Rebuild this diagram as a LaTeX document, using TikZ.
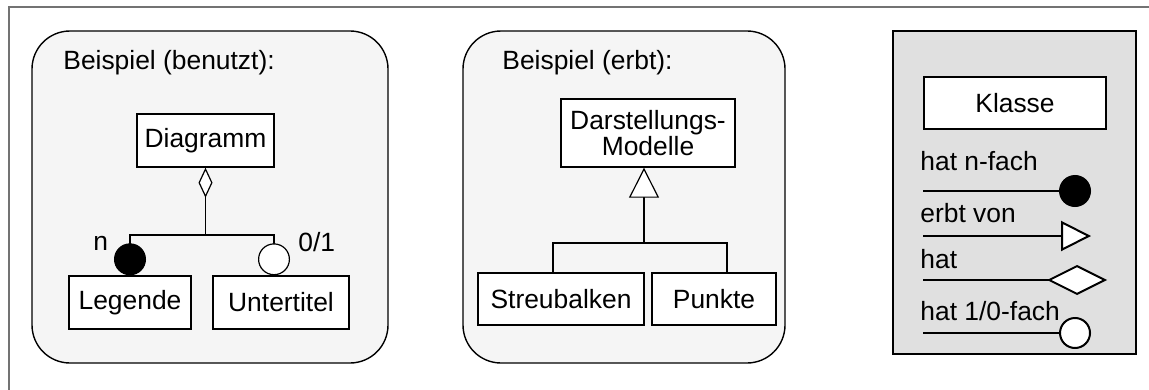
\documentclass[tikz,border=0pt]{standalone}
\usepackage{fontspec}
\setmainfont{Liberation Sans}
\usetikzlibrary{arrows.meta}

\tikzset{
  klasse/.style={draw,fill=white,line width=0.7pt,inner sep=0pt},
  gruppe/.style={draw,line width=0.7pt,rounded corners=19pt,fill=black!4},
  beschr/.style={anchor=base west,inner sep=0pt},
  verb/.style={line width=0.6pt},
  legline/.style={line width=1pt},
  voll/.tip={Circle[length=16pt]},
  leer/.tip={Circle[length=16pt,fill=white]},
  raute/.tip={Diamond[length=15pt,width=7pt,fill=white]},
  dreieck/.tip={Triangle[length=15pt,width=15pt,fill=white]},
  grossdreieck/.tip={Triangle[length=15pt,width=15pt,fill=white]},
  grossraute/.tip={Diamond[length=30pt,width=15pt,fill=white]},
}

\begin{document}
\begin{tikzpicture}[x=0.5pt,y=-0.5pt,font=\fontsize{13.2pt}{11.5pt}\selectfont]
  \useasboundingbox (0,0) rectangle (1149,390);
  \draw[black!55,line width=0.8pt] (9,390) -- (9,7) -- (1149,7);

  % Beispiel benutzt
  \draw[gruppe] (32,31) rectangle (388,363);
  \node[beschr] (tbenutzt) at (63,70) {Beispiel (benutzt):};
  \node[klasse,minimum width=68.5pt,minimum height=26.5pt] (diag) at (205.5,140.5) {Diagramm};
  \node[klasse,minimum width=61pt,minimum height=26.5pt] (leg) at (130,302.5) {Legende};
  \node[klasse,minimum width=68pt,minimum height=26.5pt] (unter) at (281,302.5) {Untertitel};
  \coordinate (bjoin) at (205.5,235);
  \draw[verb,{raute}-] (diag) -- (bjoin);
  \draw[verb,-{voll}] (bjoin) -| (leg);
  \draw[verb,-{leer}] (bjoin) -| ([xshift=-3.5pt]unter.north);
  \node[beschr] (nmult) at (93,250) {n};
  \node[beschr] (emult) at (298,251) {0/1};

  % Beispiel erbt
  \draw[gruppe] (463,31) rectangle (785,363);
  \node[beschr] (terbt) at (502,70) {Beispiel (erbt):};
  \node[klasse,align=center,minimum width=87pt,minimum height=34pt] (dmod) at (648,133) {Darstellungs-\\Modelle};
  \node[klasse,minimum width=83pt,minimum height=26pt] (streu) at (561,299) {Streubalken};
  \node[klasse,minimum width=62pt,minimum height=26pt] (punkte) at (714,299) {Punkte};
  \coordinate (ejoin) at (644,243);
  \draw[verb,{dreieck}-] ([xshift=-2pt]dmod.south) -- (ejoin);
  \draw[verb] (ejoin) -| ([xshift=-4pt]streu.north);
  \draw[verb] (ejoin) -| ([xshift=6.5pt]punkte.north);

  % Legende
  \draw[fill=black!12,line width=1pt] (893,31) rectangle (1136,354);
  \node[klasse,minimum width=91pt,minimum height=26pt] (klasse) at (1015,103) {Klasse};
  \node[beschr] (lnfach) at (920,170) {hat n-fach};
  \coordinate (a1) at (923,191); \coordinate (b1) at (1091,191);
  \draw[legline,-{voll}] (a1) -- (b1);
  \node[beschr] (lerbt) at (920,222) {erbt von};
  \coordinate (a2) at (923,236); \coordinate (b2) at (1091,236);
  \draw[legline,-{grossdreieck}] (a2) -- (b2);
  \node[beschr] (lhat) at (920,268) {hat};
  \coordinate (a3) at (923,280); \coordinate (b3) at (1107,280);
  \draw[legline,-{grossraute}] (a3) -- (b3);
  \node[beschr] (leinfach) at (920,320) {hat 1/0-fach};
  \coordinate (a4) at (923,333); \coordinate (b4) at (1091,333);
  \draw[legline,-{leer}] (a4) -- (b4);
\end{tikzpicture}
\end{document}
